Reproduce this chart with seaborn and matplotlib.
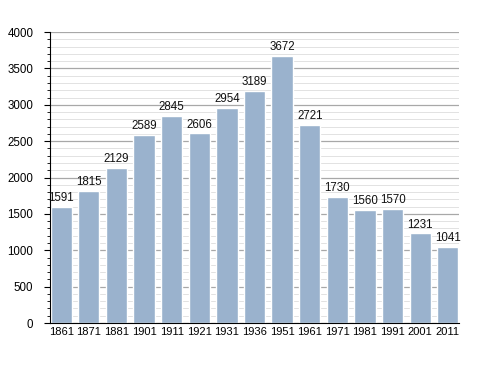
import matplotlib
matplotlib.use("Agg")
import matplotlib.pyplot as plt
import seaborn as sns
import pandas as pd
from matplotlib.ticker import MultipleLocator

years = ["1861", "1871", "1881", "1901", "1911", "1921", "1931", "1936",
         "1951", "1961", "1971", "1981", "1991", "2001", "2011"]
population = [1591, 1815, 2129, 2589, 2845, 2606, 2954, 3189,
              3672, 2721, 1730, 1560, 1570, 1231, 1041]

df = pd.DataFrame({"year": years, "pop": population})

sns.set_theme(style="white")
plt.rcParams['font.family'] = ['Liberation Sans', 'DejaVu Sans']

fig = plt.figure(figsize=(4.88, 3.73), dpi=100)
ax = fig.add_axes([0.1025, 0.134, 0.838, 0.780])

ax.set_axisbelow(True)
ax.yaxis.set_major_locator(MultipleLocator(500))
ax.yaxis.set_minor_locator(MultipleLocator(100))
ax.grid(which="major", axis="y", color="#a8a8a8", linewidth=0.9)
ax.grid(which="minor", axis="y", color="#e2e2e2", linewidth=0.7)

bw = 0.77
sns.barplot(data=df, x="year", y="pop", color="#9ab2cd", saturation=1,
            width=bw, ax=ax)

for i, v in enumerate(population):
    ax.text(i, v + 40, str(v), ha="center", va="bottom", fontsize=8.3, color="#111111")

ax.set_ylim(0, 4000)
ax.set_xlim(-bw / 2 - 0.02, len(years) - 1 + bw / 2 + 0.02)
ax.set_xlabel("")
ax.set_ylabel("")
for s in ["top", "right"]:
    ax.spines[s].set_visible(False)
ax.spines["left"].set_color("#000000")
ax.spines["bottom"].set_color("#000000")
ax.spines["left"].set_linewidth(0.8)
ax.spines["bottom"].set_linewidth(0.8)
ax.tick_params(axis="y", which="major", left=True, length=4, width=0.8, labelsize=8.3, pad=8, colors="#000000")
ax.tick_params(axis="y", which="minor", left=True, length=2, width=0.6, colors="#000000")
ax.tick_params(axis="x", bottom=False, length=0, labelsize=8, pad=3, colors="#000000")

fig.savefig("out.png", dpi=100, facecolor="white")
